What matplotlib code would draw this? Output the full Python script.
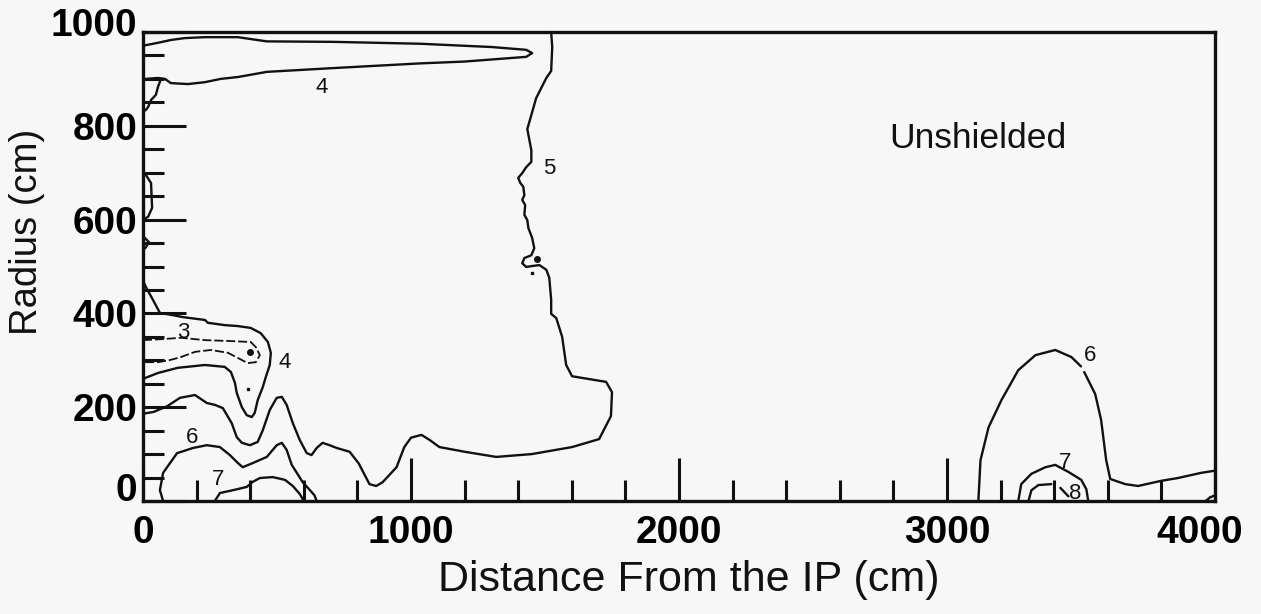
import matplotlib
matplotlib.use("Agg")
import matplotlib.pyplot as plt
from matplotlib.transforms import ScaledTranslation

plt.rcParams['font.family'] = ['Liberation Sans', 'DejaVu Sans']

# ---------------- data (cm) ----------------
x_ticks_major = [0, 1000, 2000, 3000, 4000]
y_ticks_major = [0, 200, 400, 600, 800, 1000]

# contour "4": thin sliver along the top
c4_top = [(0, 970), (11, 972), (56, 977), (104, 983), (156, 987), (231, 989), (354, 989),
          (462, 980), (708, 979), (1032, 975), (1300, 968), (1430, 962), (1452, 955),
          (1430, 947), (1200, 937), (1032, 933), (708, 923), (462, 915), (354, 904),
          (290, 900), (231, 893), (168, 889), (104, 891), (82, 900), (56, 902), (11, 900), (0, 900)]
c4_branch = [(67, 900), (56, 883), (48, 866), (30, 855), (19, 840), (11, 834), (0, 830)]
axis_bulge_a = [(0, 700), (11, 695), (30, 678), (34, 625), (19, 606), (0, 600)]
axis_bulge_b = [(0, 565), (22, 552), (11, 541), (0, 535)]

# contour "4": lower-left lobe
c4_low = [(0, 470), (11, 456), (37, 429), (63, 401), (104, 397), (150, 392), (231, 386),
          (242, 380), (305, 375), (354, 373), (402, 369), (439, 358), (466, 339), (477, 316),
          (473, 290), (458, 264), (447, 243), (428, 215), (417, 188), (406, 179), (387, 183),
          (369, 200), (350, 230), (343, 252), (328, 275), (305, 286), (231, 290), (130, 284),
          (56, 273), (7, 262), (0, 262)]

# contour "3" (dashed)
c3 = [(0, 343), (67, 345), (142, 348), (231, 343), (328, 341), (402, 339), (421, 328),
      (436, 311), (421, 296), (391, 294), (354, 305), (317, 316), (253, 322), (194, 318),
      (142, 307), (104, 301), (56, 296), (0, 296)]

# contour "5"
c5 = [(0, 186), (40, 190), (90, 202), (138, 220), (194, 226), (238, 209), (268, 205),
      (298, 198), (331, 166), (350, 136), (369, 124), (399, 119), (428, 126), (447, 151),
      (473, 194), (499, 220), (518, 222), (536, 205), (559, 166), (585, 130), (611, 102),
      (629, 98), (648, 113), (670, 124), (696, 119), (723, 113), (771, 105), (805, 80),
      (845, 36), (870, 32), (894, 40), (946, 72), (975, 115), (1000, 135), (1039, 141),
      (1070, 130), (1106, 115), (1200, 105), (1318, 94), (1450, 100), (1601, 115),
      (1702, 132), (1746, 181), (1750, 232), (1728, 254), (1601, 266), (1579, 290),
      (1564, 350), (1542, 390), (1523, 399), (1523, 429), (1516, 476), (1505, 493),
      (1479, 503), (1452, 501), (1430, 499), (1415, 507), (1423, 518), (1449, 524),
      (1460, 539), (1452, 561), (1438, 582), (1434, 599), (1423, 610), (1426, 631),
      (1415, 642), (1423, 652), (1419, 670), (1408, 678), (1400, 689), (1415, 699),
      (1430, 712), (1449, 723), (1449, 748), (1434, 793), (1467, 859), (1505, 902),
      (1523, 917), (1527, 968), (1523, 1000)]

# contours "6" and "7" near the IP
c6_left = [(75, 0), (63, 23), (75, 60), (101, 81), (127, 102), (138, 104), (186, 113),
           (238, 119), (287, 115), (324, 98), (354, 81), (372, 72), (410, 81), (462, 94),
           (499, 119), (518, 124), (536, 109), (555, 77), (574, 60), (596, 40), (620, 25),
           (640, 12), (648, 0)]
c7_left = [(268, 0), (287, 17), (335, 23), (387, 30), (410, 41), (436, 49), (484, 51),
           (530, 45), (559, 32), (585, 15), (600, 0)]

# contours "6", "7", "8" near 3400 cm
c6_right_a = [(3117, 0), (3125, 87), (3155, 157), (3203, 215), (3266, 279), (3330, 311),
              (3404, 322), (3464, 307), (3500, 287)]
c6_right_b = [(3512, 275), (3553, 228), (3575, 173), (3594, 87), (3609, 47), (3665, 36),
              (3713, 32), (3799, 43), (3862, 49), (3948, 60), (3993, 64), (4000, 65)]
c7_right = [(3266, 0), (3277, 36), (3315, 58), (3367, 72), (3404, 77), (3453, 62),
            (3501, 45), (3520, 25), (3527, 0)]
c8_right = [(3304, 0), (3315, 23), (3341, 34), (3389, 36)]
c8_mark = [(3423, 28), (3453, 10)]
corner_bit = [(3965, 0), (3982, 8), (4000, 12)]

dots = [(398, 318), (1471, 516)]
small_dots = [(1452, 486), (391, 239)]

contour_labels = [("4", 667, 881), ("5", 1516, 710), ("3", 149, 360), ("4", 529, 296),
                  ("6", 182, 136), ("7", 279, 45), ("6", 3534, 311), ("7", 3441, 83),
                  ("8", 3479, 17)]

# ---------------- figure ----------------
W, H = 1261, 614
fig = plt.figure(figsize=(W / 100, H / 100), dpi=100, facecolor='#f7f7f7')
L, R, T, B = 143, 1215, 32, 501
ax = fig.add_axes([L / W, 1 - B / H, (R - L) / W, (B - T) / H], facecolor='#f7f7f7')
ax.set_xlim(0, 4000)
ax.set_ylim(0, 1000)

ink = '#111111'
lw = 1.7


def draw(pts, **kw):
    xs = [p[0] for p in pts]
    ys = [p[1] for p in pts]
    ax.plot(xs, ys, color=ink, lw=kw.pop('lw', lw), solid_joinstyle='round',
            solid_capstyle='round', clip_on=False, **kw)


for seg in [c4_top, c4_branch, axis_bulge_a, axis_bulge_b, c4_low, c5, c6_left, c7_left,
            c6_right_a, c6_right_b, c7_right, c8_right, c8_mark, corner_bit]:
    draw(seg)
draw(c3, lw=1.3, linestyle=(0, (5, 1.6)))

ax.plot([d[0] for d in dots], [d[1] for d in dots], 'o', color=ink, ms=4)
ax.plot([d[0] for d in small_dots], [d[1] for d in small_dots], 's', color=ink, ms=2)

for txt, x, y in contour_labels:
    ax.text(x, y, txt, fontsize=16, ha='center', va='center', color=ink)

ax.text(3117, 772, "Unshielded", fontsize=25.5, ha='center', va='center', color=ink)

# spines / ticks
for s in ax.spines.values():
    s.set_linewidth(2.4)
    s.set_color(ink)

ax.set_xticks(x_ticks_major)
ax.set_xticks(range(0, 4001, 200), minor=True)
ax.set_yticks(y_ticks_major)
ax.set_yticks(range(0, 1001, 50), minor=True)
ax.tick_params(which='both', direction='in', color=ink, width=2.2, top=False, right=False)
ax.tick_params(which='major', length=31)
ax.tick_params(which='minor', length=15)
ax.tick_params(axis='y', which='major', pad=4, labelsize=28)
ax.tick_params(axis='x', which='major', pad=10, labelsize=28)
ax.set_xticklabels([str(v) for v in x_ticks_major], fontweight='bold')
ax.set_yticklabels([str(v) for v in y_ticks_major], fontweight='bold')

# nudge the end labels like the reference
yt = ax.yaxis.get_major_ticks()
yt[0].label1.set_transform(yt[0].label1.get_transform() + ScaledTranslation(0, 0.14, fig.dpi_scale_trans))
yt[-1].label1.set_transform(yt[-1].label1.get_transform() + ScaledTranslation(0, 0.10, fig.dpi_scale_trans))
xt = ax.xaxis.get_major_ticks()
xt[-1].label1.set_transform(xt[-1].label1.get_transform() + ScaledTranslation(-0.15, 0, fig.dpi_scale_trans))

fig.text(689 / W, 1 - 580 / H, "Distance From the IP (cm)", fontsize=31, ha='center',
         va='center', color=ink)
fig.text(27 / W, 1 - 232 / H, "Radius (cm)", fontsize=27.5, ha='center', va='center',
         rotation=90, color=ink)

fig.savefig("out.png", dpi=100, facecolor=fig.get_facecolor())
